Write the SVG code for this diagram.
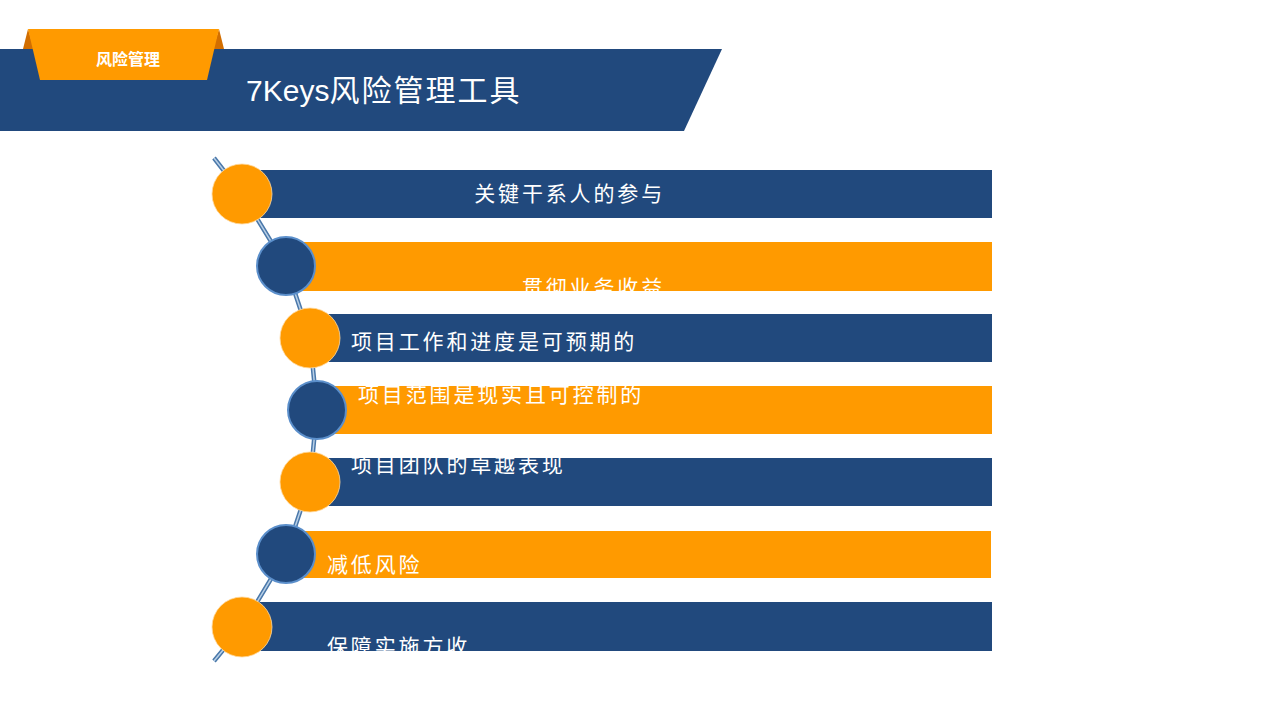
<svg xmlns="http://www.w3.org/2000/svg" width="1280" height="720" viewBox="0 0 1280 720">
<defs>
<style>
.blue{fill:#21497D}
.orange{fill:#FF9A00}
.lbl{fill:#FFFFFF;font-family:"Noto Sans CJK SC","Liberation Sans",sans-serif;font-size:21px;letter-spacing:2.85px}
.cb{fill:#21497D;stroke:#5B8FCB;stroke-width:2}
.co{fill:#FF9A00;stroke:#FFD9A0;stroke-width:0.8}
</style>
<clipPath id="c2"><rect x="286" y="242" width="706" height="49"/></clipPath>
<clipPath id="c7"><rect x="242" y="602" width="750" height="49"/></clipPath>
</defs>
<rect width="1280" height="720" fill="#FFFFFF"/>
<g id="header">
<polygon points="28,29 23,49 34,49" fill="#D26E00"/>
<polygon points="219,29 224,49 213,49" fill="#D26E00"/>
<polygon class="blue" points="0,49 722,49 684,131 0,131"/>
<polygon class="orange" points="28,29 219,29 207,80 40,80"/>
<text x="128" y="65" text-anchor="middle" fill="#FFFFFF" font-family="'Liberation Serif','Noto Sans CJK SC',serif" font-weight="bold" font-size="16">风险管理</text>
<text x="246" y="101" fill="#FFFFFF" font-family="'Liberation Sans','Noto Sans CJK SC',sans-serif" font-size="30">7Keys<tspan letter-spacing="2">风险管理工具</tspan></text>
</g>
<g id="connectors">
<path d="M214,158 L242,194 L286,266 L310,338 L317,410 L310,482 L286,554 L242,627 L214,661" fill="none" stroke="#4A78AA" stroke-width="4.5" stroke-linejoin="round"/>
<path d="M214,158 L242,194 L286,266 L310,338 L317,410 L310,482 L286,554 L242,627 L214,661" fill="none" stroke="#B8CFE6" stroke-width="1.5" stroke-linejoin="round"/>
</g>
<g id="node1">
<rect class="blue" x="242" y="170" width="750" height="48"/>
<circle class="co" cx="242" cy="194" r="30"/>
<text class="lbl" x="665" y="201" text-anchor="end">关键干系人的参与</text>
</g>
<g id="node2">
<rect class="orange" x="286" y="242" width="706" height="49"/>
<circle class="cb" cx="286" cy="266" r="29"/>
<text class="lbl" x="665" y="295" text-anchor="end" clip-path="url(#c2)">贯彻业务收益</text>
</g>
<g id="node3">
<rect class="blue" x="310" y="314" width="682" height="48"/>
<circle class="co" cx="310" cy="338" r="30"/>
<text class="lbl" x="351" y="349">项目工作和进度是可预期的</text>
</g>
<g id="node4">
<rect class="orange" x="317" y="386" width="675" height="48"/>
<circle class="cb" cx="317" cy="410" r="29"/>
<text class="lbl" x="358" y="402">项目范围是现实且可控制的</text>
</g>
<g id="node5">
<rect class="blue" x="310" y="458" width="682" height="48"/>
<circle class="co" cx="310" cy="482" r="30"/>
<text class="lbl" x="351" y="472">项目团队的卓越表现</text>
</g>
<g id="node6">
<rect class="orange" x="286" y="531" width="705" height="47"/>
<circle class="cb" cx="286" cy="554" r="29"/>
<text class="lbl" x="327" y="572">减低风险</text>
</g>
<g id="node7">
<rect class="blue" x="242" y="602" width="750" height="49"/>
<circle class="co" cx="242" cy="627" r="30"/>
<text class="lbl" x="327" y="654" clip-path="url(#c7)">保障实施方收</text>
</g>
</svg>
